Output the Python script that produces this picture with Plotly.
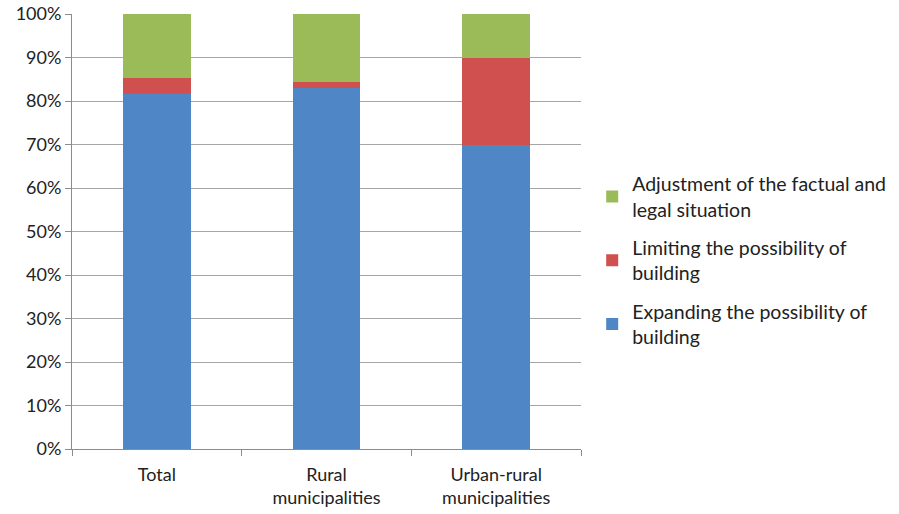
import plotly.graph_objects as go

categories = ["Total", "Rural<br>municipalities", "Urban-rural<br>municipalities"]
expanding = [81.7, 83.1, 69.9]
limiting = [3.6, 1.3, 20.1]
adjustment = [14.7, 15.6, 10.0]

series_names = [
    "Expanding the possibility of<br>building",
    "Limiting the possibility of<br>building",
    "Adjustment of the factual and<br>legal situation",
]
colors = ["#4F86C6", "#D0504F", "#9BBB59"]
legend_ranks = [3, 2, 1]

fig = go.Figure()
for i, (name, vals, col) in enumerate(zip(series_names, [expanding, limiting, adjustment], colors)):
    fig.add_trace(go.Bar(
        x=categories, y=vals, name=name, legendgroup=f"g{i}",
        legendrank=legend_ranks[i],
        marker=dict(color=col, line=dict(width=0)),
    ))

font_family = "Lato, 'Open Sans', sans-serif"
fig.update_layout(
    barmode="stack",
    bargap=0.6,
    width=899, height=514,
    margin=dict(l=72, r=318, t=14, b=65, autoexpand=False),
    plot_bgcolor="white", paper_bgcolor="white",
    font=dict(family=font_family, size=18, color="#222222"),
    legend=dict(
        traceorder="grouped",
        x=1.022, y=0.433, xanchor="left", yanchor="middle",
        font=dict(size=19.5, color="#222222"),
        tracegroupgap=10,
    ),
    showlegend=True,
)
fig.update_yaxes(
    range=[0, 100], tickvals=[0, 10, 20, 30, 40, 50, 60, 70, 80, 90, 100],
    ticktext=[f"{v}%" for v in range(0, 101, 10)],
    showgrid=True, gridcolor="#A6A6A6", gridwidth=1,
    showline=True, linecolor="#8C8C8C", linewidth=1,
    ticks="outside", ticklen=6, tickcolor="#8C8C8C",
    zeroline=False, tickfont=dict(size=18), automargin=False,
    ticklabeloverflow="allow",
)
fig.update_xaxes(
    showgrid=False, showline=True, linecolor="#8C8C8C", linewidth=1,
    ticks="outside", ticklen=6, tickcolor="#8C8C8C", tickson="boundaries",
    tickfont=dict(size=18), automargin=False, ticklabeloverflow="allow",
    ticklabelstandoff=9,
)
fig.write_html(
    "out.html",
    config={"displayModeBar": False},
    post_script="document.body.style.margin='0';document.body.style.overflow='hidden';",
)
